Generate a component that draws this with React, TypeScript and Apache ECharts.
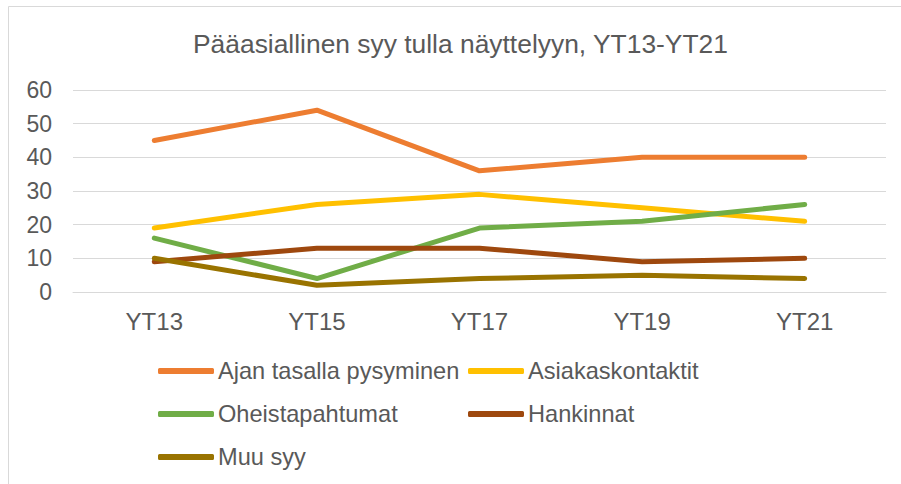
import React, { useEffect, useRef } from "react";
import * as echarts from "echarts";

const categories = ["YT13", "YT15", "YT17", "YT19", "YT21"];
const ajan = [45, 54, 36, 40, 40];
const asiakas = [19, 26, 29, 25, 21];
const oheis = [16, 4, 19, 21, 26];
const hankinnat = [9, 13, 13, 9, 10];
const muu = [10, 2, 4, 5, 4];

const seriesNames = [
  "Ajan tasalla pysyminen",
  "Asiakaskontaktit",
  "Oheistapahtumat",
  "Hankinnat",
  "Muu syy",
];
const seriesData = [ajan, asiakas, oheis, hankinnat, muu];
const colors = ["#ED7D31", "#FFC000", "#70AD47", "#9E480E", "#997300"];

const FONT = "'Liberation Sans', Arial, sans-serif";
const TEXT = "#595959";

export default function App() {
  const ref = useRef<HTMLDivElement>(null);
  useEffect(() => {
    if (!ref.current) return;
    const chart = echarts.init(ref.current, null, { renderer: "svg" });
    const legendPos = [
      { left: 158, top: 372 },
      { left: 468, top: 372 },
      { left: 158, top: 415 },
      { left: 468, top: 415 },
      { left: 158, top: 458 },
    ];
    const legends = seriesNames.map((n, i) => ({
      data: [n],
      left: legendPos[i].left,
      top: legendPos[i].top - 13,
      padding: 0,
      icon: "roundRect",
      itemWidth: 56,
      itemHeight: 6,
      itemGap: 0,
      textStyle: { fontFamily: FONT, fontSize: 23.6, color: TEXT, padding: [0, 0, 0, -1] },
    }));
    chart.setOption({
      animation: false,
      textStyle: { fontFamily: FONT },
      title: {
        text: "Pääasiallinen syy tulla näyttelyyn, YT13-YT21",
        left: 193,
        top: 31,
        padding: 0,
        textStyle: { fontFamily: FONT, fontSize: 26.4, fontWeight: "normal", color: TEXT },
      },
      graphic: [
        {
          type: "rect",
          shape: { x: 8.5, y: 6.5, width: 1000, height: 1000 },
          style: { fill: "none", stroke: "#d9d9d9", lineWidth: 1 },
          silent: true,
        },
      ],
      legend: legends,
      grid: { left: 73, right: 15, top: 90, bottom: 192, containLabel: false },
      xAxis: {
        type: "category",
        data: categories,
        boundaryGap: true,
        axisLine: { show: true, lineStyle: { color: "#d9d9d9", width: 1 } },
        axisTick: { show: false },
        axisLabel: { fontFamily: FONT, fontSize: 24, color: TEXT, margin: 17 },
      },
      yAxis: {
        type: "value",
        min: 0,
        max: 60,
        interval: 10,
        axisLine: { show: false },
        axisTick: { show: false },
        axisLabel: { fontFamily: FONT, fontSize: 23, color: TEXT, margin: 21 },
        splitLine: { lineStyle: { color: "#d9d9d9", width: 1 } },
      },
      series: seriesNames.map((n, i) => ({
        name: n,
        type: "line",
        data: seriesData[i],
        showSymbol: false,
        symbol: "none",
        color: colors[i],
        lineStyle: { color: colors[i], width: 5, cap: "round", join: "round" },
      })),
    });
    return () => chart.dispose();
  }, []);
  return (
    <div
      ref={ref}
      style={{ position: "fixed", left: 0, top: 0, width: 901, height: 484, background: "#fff" }}
    />
  );
}
